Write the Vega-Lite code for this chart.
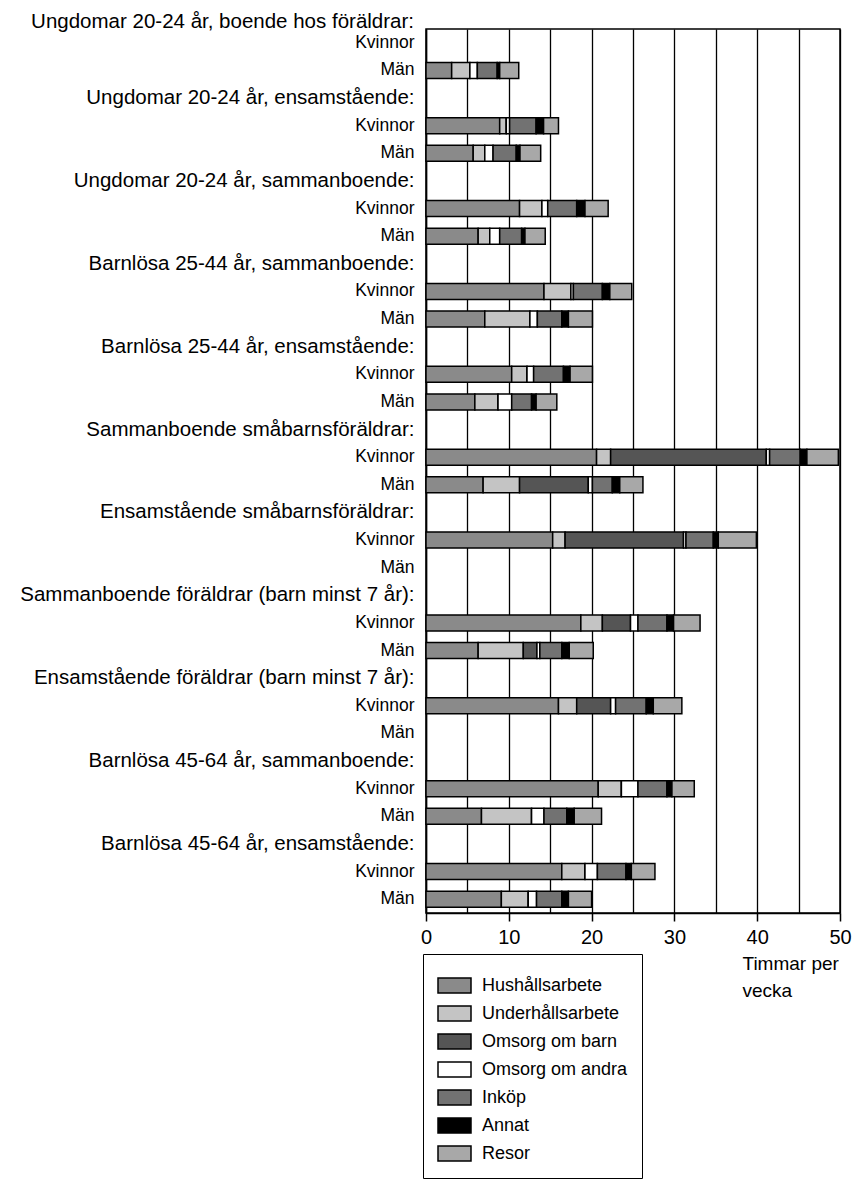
{
  "$schema": "https://vega.github.io/schema/vega-lite/v6.json",
  "autosize": "none",
  "width": 414,
  "height": 884,
  "padding": {"left": 426, "top": 29, "right": 14, "bottom": 278},
  "background": "white",
  "config": {
    "font": "Liberation Sans",
    "view": {"stroke": "black", "strokeWidth": 1.5}
  },
  "title": {
    "text": "Ungdomar 20-24 år, boende hos föräldrar:",
    "orient": "top",
    "anchor": "start",
    "frame": "group",
    "align": "right",
    "baseline": "alphabetic",
    "dx": -12,
    "dy": 20,
    "offset": 1,
    "fontSize": 20.5,
    "fontWeight": "normal",
    "font": "Liberation Sans",
    "color": "black"
  },
  "datasets": {
    "cats": [
      {"cat": "Hushållsarbete", "k": 1},
      {"cat": "Underhållsarbete", "k": 2},
      {"cat": "Omsorg om barn", "k": 3},
      {"cat": "Omsorg om andra", "k": 4},
      {"cat": "Inköp", "k": 5},
      {"cat": "Annat", "k": 6},
      {"cat": "Resor", "k": 7}
    ]
  },
  "data": {
    "values": [
      {"y": "02|Män", "Hushållsarbete": 3.1, "Underhållsarbete": 2.2, "Omsorg om barn": 0, "Omsorg om andra": 0.9, "Inköp": 2.4, "Annat": 0.3, "Resor": 2.3},
      {"y": "04|Kvinnor", "Hushållsarbete": 8.9, "Underhållsarbete": 0.8, "Omsorg om barn": 0, "Omsorg om andra": 0.4, "Inköp": 3.2, "Annat": 0.9, "Resor": 1.8},
      {"y": "05|Män", "Hushållsarbete": 5.7, "Underhållsarbete": 1.4, "Omsorg om barn": 0, "Omsorg om andra": 1.0, "Inköp": 2.8, "Annat": 0.45, "Resor": 2.5},
      {"y": "07|Kvinnor", "Hushållsarbete": 11.3, "Underhållsarbete": 2.7, "Omsorg om barn": 0, "Omsorg om andra": 0.7, "Inköp": 3.5, "Annat": 1.0, "Resor": 2.8},
      {"y": "08|Män", "Hushållsarbete": 6.3, "Underhållsarbete": 1.4, "Omsorg om barn": 0, "Omsorg om andra": 1.2, "Inköp": 2.65, "Annat": 0.4, "Resor": 2.45},
      {"y": "10|Kvinnor", "Hushållsarbete": 14.25, "Underhållsarbete": 3.25, "Omsorg om barn": 0, "Omsorg om andra": 0.3, "Inköp": 3.5, "Annat": 0.9, "Resor": 2.65},
      {"y": "11|Män", "Hushållsarbete": 7.1, "Underhållsarbete": 5.45, "Omsorg om barn": 0, "Omsorg om andra": 0.9, "Inköp": 2.95, "Annat": 0.8, "Resor": 2.9},
      {"y": "13|Kvinnor", "Hushållsarbete": 10.35, "Underhållsarbete": 1.85, "Omsorg om barn": 0, "Omsorg om andra": 0.8, "Inköp": 3.6, "Annat": 0.8, "Resor": 2.7},
      {"y": "14|Män", "Hushållsarbete": 5.9, "Underhållsarbete": 2.8, "Omsorg om barn": 0, "Omsorg om andra": 1.65, "Inköp": 2.4, "Annat": 0.55, "Resor": 2.5},
      {"y": "16|Kvinnor", "Hushållsarbete": 20.6, "Underhållsarbete": 1.7, "Omsorg om barn": 18.8, "Omsorg om andra": 0.4, "Inköp": 3.7, "Annat": 0.8, "Resor": 3.8},
      {"y": "17|Män", "Hushållsarbete": 6.9, "Underhållsarbete": 4.4, "Omsorg om barn": 8.3, "Omsorg om andra": 0.5, "Inköp": 2.4, "Annat": 0.9, "Resor": 2.8},
      {"y": "19|Kvinnor", "Hushållsarbete": 15.3, "Underhållsarbete": 1.5, "Omsorg om barn": 14.3, "Omsorg om andra": 0.3, "Inköp": 3.3, "Annat": 0.6, "Resor": 4.6},
      {"y": "22|Kvinnor", "Hushållsarbete": 18.7, "Underhållsarbete": 2.6, "Omsorg om barn": 3.4, "Omsorg om andra": 0.9, "Inköp": 3.5, "Annat": 0.8, "Resor": 3.2},
      {"y": "23|Män", "Hushållsarbete": 6.3, "Underhållsarbete": 5.45, "Omsorg om barn": 1.65, "Omsorg om andra": 0.35, "Inköp": 2.65, "Annat": 0.9, "Resor": 2.9},
      {"y": "25|Kvinnor", "Hushållsarbete": 16.0, "Underhållsarbete": 2.2, "Omsorg om barn": 4.1, "Omsorg om andra": 0.6, "Inköp": 3.7, "Annat": 0.85, "Resor": 3.45},
      {"y": "28|Kvinnor", "Hushållsarbete": 20.8, "Underhållsarbete": 2.8, "Omsorg om barn": 0, "Omsorg om andra": 2.0, "Inköp": 3.5, "Annat": 0.6, "Resor": 2.7},
      {"y": "29|Män", "Hushållsarbete": 6.7, "Underhållsarbete": 6.05, "Omsorg om barn": 0, "Omsorg om andra": 1.5, "Inköp": 2.75, "Annat": 0.9, "Resor": 3.3},
      {"y": "31|Kvinnor", "Hushållsarbete": 16.4, "Underhållsarbete": 2.8, "Omsorg om barn": 0, "Omsorg om andra": 1.5, "Inköp": 3.45, "Annat": 0.65, "Resor": 2.85},
      {"y": "32|Män", "Hushållsarbete": 9.1, "Underhållsarbete": 3.25, "Omsorg om barn": 0, "Omsorg om andra": 1.0, "Inköp": 3.05, "Annat": 0.8, "Resor": 2.8}
    ]
  },
  "transform": [
    {"fold": ["Hushållsarbete", "Underhållsarbete", "Omsorg om barn", "Omsorg om andra", "Inköp", "Annat", "Resor"], "as": ["cat", "h"]},
    {"lookup": "cat", "from": {"data": {"name": "cats"}, "key": "cat", "fields": ["k"]}}
  ],
  "mark": {"type": "bar", "size": 16, "stroke": "black", "strokeWidth": 1.5},
  "encoding": {
    "x": {
      "field": "h",
      "type": "quantitative",
      "stack": "zero",
      "scale": {"domain": [0, 50], "nice": false},
      "axis": {
        "values": [0, 5, 10, 15, 20, 25, 30, 35, 40, 45, 50],
        "labelExpr": "datum.value % 10 === 0 ? datum.label : ''",
        "grid": true,
        "gridColor": "black",
        "gridWidth": 1.3,
        "gridOpacity": 1,
        "domainColor": "black",
        "domainWidth": 1.5,
        "tickColor": "black",
        "tickWidth": 1.5,
        "tickSize": 8,
        "tickOpacity": {"condition": {"test": "datum.value % 10 !== 0", "value": 0}, "value": 1},
        "labelFlush": false,
        "labelFontSize": 20,
        "labelColor": "black",
        "labelPadding": 6,
        "title": ["Timmar per", "vecka"],
        "titleFontSize": 19,
        "titleFontWeight": "normal",
        "titleColor": "black",
        "titleAlign": "left",
        "titleBaseline": "alphabetic",
        "titleLineHeight": 27,
        "titleX": 316,
        "titleY": 56
      }
    },
    "y": {
      "field": "y",
      "type": "nominal",
      "scale": {
        "domain": [
          "01|Kvinnor", "02|Män",
          "03|Ungdomar 20-24 år, ensamstående:", "04|Kvinnor", "05|Män",
          "06|Ungdomar 20-24 år, sammanboende:", "07|Kvinnor", "08|Män",
          "09|Barnlösa 25-44 år, sammanboende:", "10|Kvinnor", "11|Män",
          "12|Barnlösa 25-44 år, ensamstående:", "13|Kvinnor", "14|Män",
          "15|Sammanboende småbarnsföräldrar:", "16|Kvinnor", "17|Män",
          "18|Ensamstående småbarnsföräldrar:", "19|Kvinnor", "20|Män",
          "21|Sammanboende föräldrar (barn minst 7 år):", "22|Kvinnor", "23|Män",
          "24|Ensamstående föräldrar (barn minst 7 år):", "25|Kvinnor", "26|Män",
          "27|Barnlösa 45-64 år, sammanboende:", "28|Kvinnor", "29|Män",
          "30|Barnlösa 45-64 år, ensamstående:", "31|Kvinnor", "32|Män"
        ],
        "paddingInner": 0,
        "paddingOuter": 0
      },
      "axis": {
        "title": null,
        "labelExpr": "split(datum.value, '|')[1]",
        "ticks": false,
        "domainColor": "black",
        "domainWidth": 1.5,
        "labelPadding": 12,
        "labelLimit": 600,
        "labelColor": "black",
        "labelFontSize": {"condition": {"test": "indexof(datum.value, ':') >= 0", "value": 20.5}, "value": 17.5}
      }
    },
    "color": {
      "field": "cat",
      "type": "nominal",
      "scale": {
        "domain": ["Hushållsarbete", "Underhållsarbete", "Omsorg om barn", "Omsorg om andra", "Inköp", "Annat", "Resor"],
        "range": ["#8a8a8a", "#c4c4c4", "#555555", "#ffffff", "#727272", "#000000", "#a8a8a8"]
      },
      "legend": {
        "title": null,
        "orient": "none",
        "legendX": -3,
        "legendY": 925,
        "padding": 14,
        "strokeColor": "black",
        "symbolType": "M-1,-0.45H1V0.45H-1Z",
        "symbolSize": 1089,
        "symbolStrokeColor": "black",
        "symbolStrokeWidth": 1.5,
        "symbolOpacity": 1,
        "labelFontSize": 18,
        "labelColor": "black",
        "labelOffset": 10,
        "labelLimit": 300,
        "rowPadding": -1
      }
    },
    "order": {"field": "k", "type": "quantitative"}
  }
}
